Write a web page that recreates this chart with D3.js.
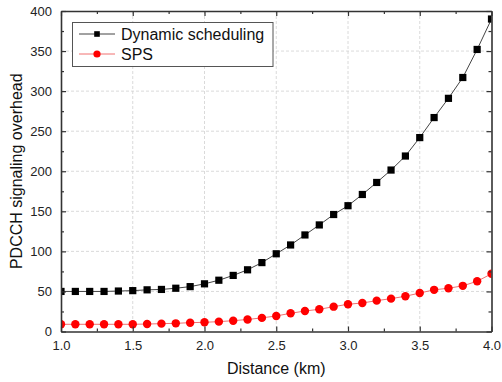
<!DOCTYPE html>
<html><head><meta charset="utf-8">
<script src="https://cdn.jsdelivr.net/npm/d3@7/dist/d3.min.js"></script>
<style>body{margin:0;background:#fff}svg{display:block}text{font-family:Arial,"Liberation Sans",sans-serif}</style>
</head><body><svg id="c" width="502" height="382"></svg>
<script>
const distance = [1.0,1.1,1.2,1.3,1.4,1.5,1.6,1.7,1.8,1.9,2.0,2.1,2.2,2.3,2.4,2.5,2.6,2.7,2.8,2.9,3.0,3.1,3.2,3.3,3.4,3.5,3.6,3.7,3.8,3.9,4.0];
const dynamicScheduling = [50,50,50,50,50.5,51,52,52.5,54,56,59.5,64,70,77,86,97,108,120.5,133,146,157,171,186,201.5,219,242,267,291,317,352,390];
const sps = [9,9,9,9,9,9,9.3,9.8,10.2,11,11.5,12.3,13.5,15,17,19.4,22.7,25.6,27.7,31,34,35.6,38.5,41,44,48,52,54,57,62.7,72];
const xTicks = [1.0,1.5,2.0,2.5,3.0,3.5,4.0];
const yTicks = [0,50,100,150,200,250,300,350,400];
const seriesNames = ["Dynamic scheduling","SPS"];

const svg = d3.select("#c");
const L=61, R=491.5, T=11, B=331.5;
const x = d3.scaleLinear().domain([1,4]).range([L,R]);
const y = d3.scaleLinear().domain([0,400]).range([B,T]);
const axisColor="#333";

svg.append("defs").append("clipPath").attr("id","clip").append("rect")
  .attr("x",L).attr("y",T).attr("width",R-L).attr("height",B-T);

// grid
const grid = svg.append("g");
xTicks.slice(1,-1).forEach(v=>grid.append("line").attr("x1",x(v)).attr("x2",x(v)).attr("y1",T).attr("y2",B)
  .attr("stroke","#d0d0d0").attr("stroke-dasharray","3,2").attr("stroke-width",0.8));
yTicks.slice(1,-1).forEach(v=>grid.append("line").attr("y1",y(v)).attr("y2",y(v)).attr("x1",L).attr("x2",R)
  .attr("stroke","#d0d0d0").attr("stroke-dasharray","3,2").attr("stroke-width",0.8));

// series
const plot = svg.append("g").attr("clip-path","url(#clip)");
const line = d3.line().x((d,i)=>x(distance[i])).y(d=>y(d));
plot.append("path").datum(sps).attr("d",line).attr("fill","none").attr("stroke","#f07070").attr("stroke-width",1);
plot.append("path").datum(dynamicScheduling).attr("d",line).attr("fill","none").attr("stroke","#444").attr("stroke-width",1);
plot.selectAll("circle.s").data(sps).join("circle").attr("cx",(d,i)=>x(distance[i])).attr("cy",d=>y(d)).attr("r",4.2).attr("fill","#ff0000");
plot.selectAll("rect.d").data(dynamicScheduling).join("rect").attr("x",(d,i)=>x(distance[i])-3.6).attr("y",d=>y(d)-3.6).attr("width",7.2).attr("height",7.2).attr("fill","#000");

// axes with inward ticks
const minorX = d3.range(1,4.001,0.25).filter(v=>!xTicks.some(t=>Math.abs(t-v)<1e-6));
const minorY = d3.range(0,400.1,25).filter(v=>!yTicks.includes(v));
const fmtX = d3.format(".1f");
const gBottom = svg.append("g").attr("transform",`translate(0,${B})`)
  .call(d3.axisBottom(x).tickValues(xTicks).tickFormat(fmtX).tickSizeInner(-5).tickSizeOuter(0).tickPadding(9));
const gTop = svg.append("g").attr("transform",`translate(0,${T})`)
  .call(d3.axisTop(x).tickValues(xTicks).tickFormat("").tickSizeInner(-5).tickSizeOuter(0));
const gLeft = svg.append("g").attr("transform",`translate(${L},0)`)
  .call(d3.axisLeft(y).tickValues(yTicks).tickSizeInner(-5).tickSizeOuter(0).tickPadding(9));
const gRight = svg.append("g").attr("transform",`translate(${R},0)`)
  .call(d3.axisRight(y).tickValues(yTicks).tickFormat("").tickSizeInner(-5).tickSizeOuter(0));
const minorDefs = [
  [d3.axisBottom(x), minorX, `translate(0,${B})`],
  [d3.axisTop(x), minorX, `translate(0,${T})`],
  [d3.axisLeft(y), minorY, `translate(${L},0)`],
  [d3.axisRight(y), minorY, `translate(${R},0)`]
];
minorDefs.forEach(([ax,vals,tr])=>{
  svg.append("g").attr("transform",tr).call(ax.tickValues(vals).tickFormat("").tickSizeInner(-3).tickSizeOuter(0))
    .call(g=>g.select(".domain").remove()).selectAll("line").attr("stroke",axisColor).attr("stroke-width",1.2);
});
[gBottom,gTop,gLeft,gRight].forEach(g=>{
  g.select(".domain").attr("stroke",axisColor).attr("stroke-width",1.6);
  g.selectAll(".tick line").attr("stroke",axisColor).attr("stroke-width",1.2);
  g.selectAll("text").attr("font-size",13).attr("fill","#222").style("font-family","Arial, 'Liberation Sans', sans-serif");
});

// legend
const lg = svg.append("g");
lg.append("rect").attr("x",72.5).attr("y",22.5).attr("width",200.5).attr("height",44).attr("fill","#fff").attr("stroke","#555").attr("stroke-width",1);
[34,54].forEach((yy,i)=>{
  lg.append("line").attr("x1",79).attr("x2",115).attr("y1",yy).attr("y2",yy).attr("stroke",i?"#f07070":"#444").attr("stroke-width",1);
  if(i===0) lg.append("rect").attr("x",94.2).attr("y",yy-2.8).attr("width",5.6).attr("height",5.6).attr("fill","#000");
  else lg.append("circle").attr("cx",97).attr("cy",yy).attr("r",3.6).attr("fill","#ff0000");
  lg.append("text").attr("x",121).attr("y",yy+5.5).attr("font-size",16).attr("fill","#111").text(seriesNames[i]);
});

// titles
svg.append("text").attr("x",(L+R)/2).attr("y",374).attr("text-anchor","middle").attr("font-size",16).attr("fill","#111").text("Distance (km)");
svg.append("text").attr("transform",`translate(22,${(T+B)/2}) rotate(-90)`).attr("text-anchor","middle").attr("font-size",16).attr("fill","#111").text("PDCCH signaling overhead");
</script></body></html>
